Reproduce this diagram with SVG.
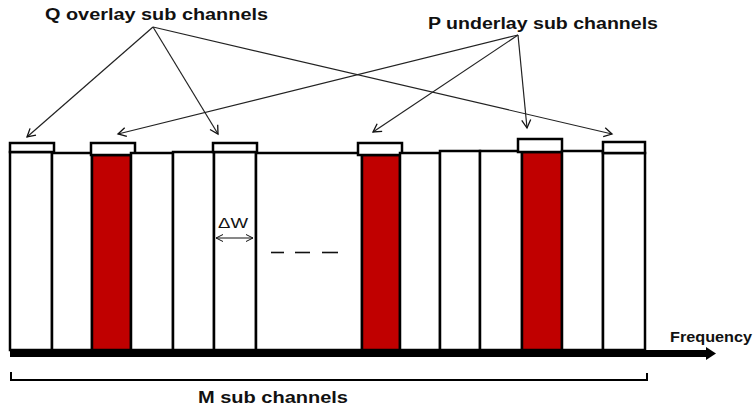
<svg xmlns="http://www.w3.org/2000/svg" width="756" height="409" viewBox="0 0 756 409">
<defs>
<marker id="ah" markerWidth="12" markerHeight="12" refX="10" refY="6" orient="auto-start-reverse" markerUnits="userSpaceOnUse">
<path d="M2,1.5 L10,6 L2,10.5" fill="none" stroke="#111" stroke-width="1.3"/>
</marker>
<marker id="ahs" markerWidth="10" markerHeight="10" refX="8" refY="5" orient="auto-start-reverse" markerUnits="userSpaceOnUse">
<path d="M1,1.5 L8,5 L1,8.5" fill="none" stroke="#111" stroke-width="1"/>
</marker>
</defs>
<style>
.bar{fill:#fff;stroke:#000;stroke-width:2.5}
.red{fill:#c00000;stroke:#000;stroke-width:2.5}
.cap{fill:#fff;stroke:#000;stroke-width:2.5}
.lbl{font-family:"Liberation Sans",Arial,sans-serif;font-weight:bold;fill:#111}
.conn{stroke:#222;stroke-width:1.2;fill:none;marker-end:url(#ah)}
</style>
<rect width="756" height="409" fill="#fff"/>

<g id="ch1"><rect class="bar" x="10" y="152" width="42" height="198"/><rect class="cap" x="10" y="143" width="44" height="9"/></g>
<g id="ch2"><rect class="bar" x="52" y="153" width="40" height="197"/></g>
<g id="ch3"><rect class="red" x="92" y="155" width="39" height="195"/><rect class="cap" x="91" y="143" width="44" height="12"/></g>
<g id="ch4"><rect class="bar" x="131" y="153" width="42" height="197"/></g>
<g id="ch5"><rect class="bar" x="173" y="152" width="41" height="198"/></g>
<g id="ch6"><rect class="bar" x="214" y="152" width="42" height="198"/><rect class="cap" x="213" y="143" width="44" height="9"/>
<text x="218" y="228" font-family="Liberation Sans,Arial,sans-serif" font-size="14" fill="#111" textLength="30" lengthAdjust="spacingAndGlyphs">ΔW</text>
<line x1="216" y1="238" x2="253" y2="238" stroke="#111" stroke-width="1" marker-start="url(#ahs)" marker-end="url(#ahs)"/></g>
<g id="ch7"><rect class="bar" x="256" y="153" width="106" height="197"/>
<g stroke="#111" stroke-width="1.6"><line x1="271" y1="252.5" x2="284" y2="252.5"/><line x1="295" y1="252.5" x2="310" y2="252.5"/><line x1="322" y1="252.5" x2="338" y2="252.5"/></g></g>
<g id="ch8"><rect class="red" x="362" y="155" width="38" height="195"/><rect class="cap" x="358" y="143" width="44" height="12"/></g>
<g id="ch9"><rect class="bar" x="400" y="153" width="40" height="197"/></g>
<g id="ch10"><rect class="bar" x="440" y="151" width="40" height="199"/></g>
<g id="ch11"><rect class="bar" x="480" y="151" width="42" height="199"/></g>
<g id="ch12"><rect class="red" x="522" y="152" width="40" height="198"/><rect class="cap" x="518" y="139" width="44" height="13"/></g>
<g id="ch13"><rect class="bar" x="562" y="151" width="41" height="199"/></g>
<g id="ch14"><rect class="bar" x="603" y="153" width="42" height="197"/><rect class="cap" x="603" y="142" width="42" height="11"/></g>

<g id="axis">
<line x1="10" y1="353.5" x2="708" y2="353.5" stroke="#000" stroke-width="7"/>
<polygon points="706,347 716,353.5 706,360" fill="#000"/>
<text class="lbl" x="670" y="341.5" font-size="14" textLength="82" lengthAdjust="spacingAndGlyphs">Frequency</text>
</g>

<g id="bracket">
<path d="M11,372 V380 H647 V373" fill="none" stroke="#000" stroke-width="2"/>
<text class="lbl" x="198" y="403" font-size="16" textLength="150" lengthAdjust="spacingAndGlyphs">M sub channels</text>
</g>

<g id="labelQ"><text class="lbl" x="45" y="20" font-size="16" textLength="223" lengthAdjust="spacingAndGlyphs">Q overlay sub channels</text></g>
<g id="labelP"><text class="lbl" x="428" y="29" font-size="16" textLength="230" lengthAdjust="spacingAndGlyphs">P underlay sub channels</text></g>

<g id="connectors">
<line class="conn" x1="153" y1="27" x2="27" y2="137"/>
<line class="conn" x1="153" y1="27" x2="218" y2="134"/>
<line class="conn" x1="153" y1="27" x2="612" y2="134"/>
<line class="conn" x1="518" y1="35" x2="118" y2="134"/>
<line class="conn" x1="518" y1="35" x2="373" y2="132"/>
<line class="conn" x1="518" y1="35" x2="527" y2="128"/>
</g>
</svg>
